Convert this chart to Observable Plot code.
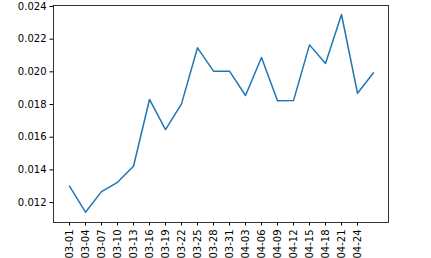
<!DOCTYPE html>
<html><head><meta charset="utf-8">
<script src="https://cdn.jsdelivr.net/npm/d3@7"></script>
<script src="https://cdn.jsdelivr.net/npm/@observablehq/plot@0.6"></script>
<style>html,body{margin:0;padding:0;background:#fff;overflow:hidden}</style>
</head><body><div id="c"></div>
<script>
const dates = ["2020-03-01","2020-03-04","2020-03-07","2020-03-10","2020-03-13","2020-03-16","2020-03-19","2020-03-22","2020-03-25","2020-03-28","2020-03-31","2020-04-03","2020-04-06","2020-04-09","2020-04-12","2020-04-15","2020-04-18","2020-04-21","2020-04-24","2020-04-27"];
const values = [0.01300,0.01141,0.01267,0.01324,0.01422,0.01831,0.01647,0.01804,0.02147,0.02004,0.02004,0.01855,0.02088,0.01823,0.01824,0.02165,0.02051,0.02351,0.01869,0.01994];
const tickLabels = dates.slice(0, 19);
const yTicks = [0.012,0.014,0.016,0.018,0.020,0.022,0.024];
const data = dates.map((d, i) => ({date: d, value: values[i]}));
const chart = Plot.plot({
  width: 431, height: 258,
  marginLeft: 53, marginRight: 43, marginTop: 5, marginBottom: 36,
  style: {fontFamily: "DejaVu Sans", fontSize: "10px", color: "#000", background: "#fff", overflow: "hidden"},
  x: {type: "point", domain: dates, padding: 0.93, label: null},
  y: {domain: [0.01078, 0.02406], label: null},
  marks: [
    Plot.frame({stroke: "#000", strokeWidth: 0.8}),
    Plot.axisX({ticks: tickLabels, tickRotate: -90, tickSize: 3.5, tickPadding: 3.5, label: null}),
    Plot.axisY({ticks: yTicks, tickFormat: ".3f", tickSize: 3.5, tickPadding: 3.5, label: null}),
    Plot.line(data, {x: "date", y: "value", stroke: "#1f77b4", strokeWidth: 1.5})
  ]
});
document.getElementById("c").appendChild(chart);
</script></body></html>
